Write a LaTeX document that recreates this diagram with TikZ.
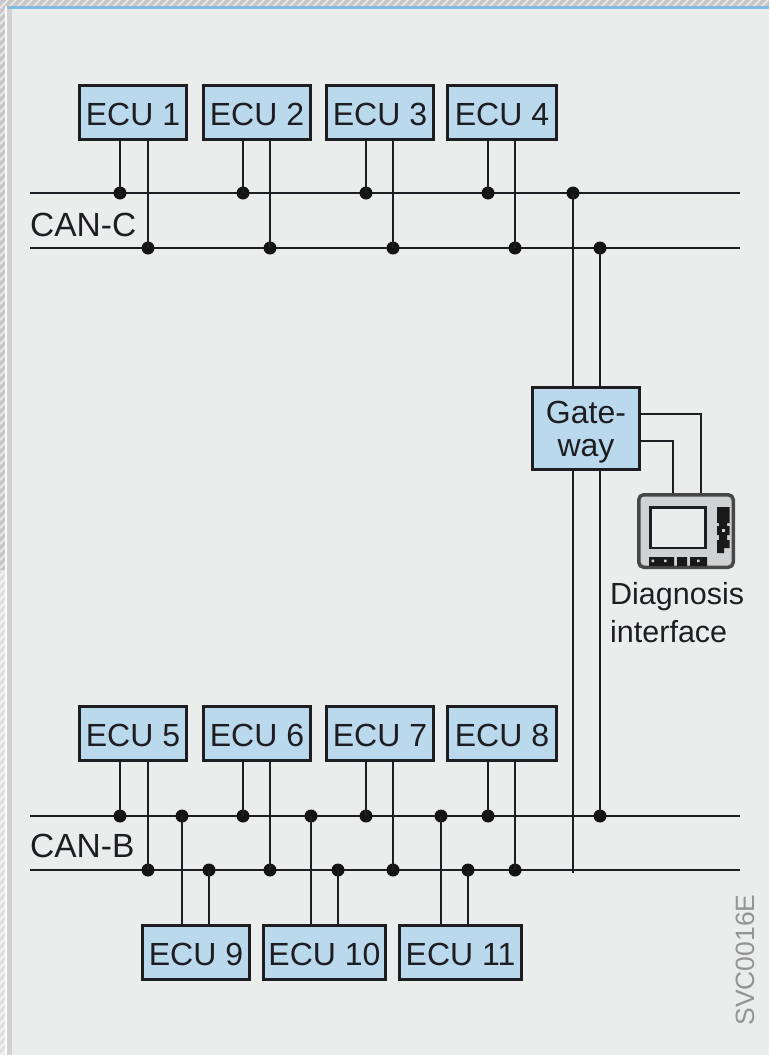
\documentclass[tikz,border=0pt]{standalone}
\usepackage{fontspec}
\setmainfont{Liberation Sans}
\definecolor{panel}{HTML}{EBEDED}
\definecolor{boxblue}{HTML}{BBD9EC}
\definecolor{ink}{HTML}{1E1E22}
\definecolor{devgrey}{HTML}{CFD1D2}
\definecolor{rule}{HTML}{82BBDD}
\tikzset{
  unit/.style={draw=ink,line width=2.6pt,fill=boxblue,text=ink,font=\fontsize{32}{33}\selectfont,inner sep=0pt,minimum height=54.4pt,anchor=north west},
  ecu/.style={unit,text height=26pt},
  wire/.style={draw=ink,line width=2.8pt},
  dot/.style={circle,fill=black!92,inner sep=0pt,minimum size=13pt},
  lbl/.style={text=ink,font=\fontsize{33.5}{38}\selectfont,inner sep=0pt}
}
\begin{document}
\begin{tikzpicture}[x=1pt,y=-1pt]
\useasboundingbox (0,0) rectangle (769,1055);
% surround
\fill[white] (0,0) rectangle (769,1055);
\begin{scope}
\clip (0,0) rectangle (769,6) (0,0) rectangle (5,1055);
\fill[black!22] (0,0) rectangle (769,570);
\fill[black!12] (0,570) rectangle (769,1055);
\foreach \i in {0,8,...,1832}{\draw[white,opacity=.6,line width=2pt] (\i,0) -- (\i-1060,1060);}
\end{scope}
\fill[devgrey] (7,6) rectangle (769,1055);
\fill[panel] (12,9) rectangle (769,1055);
\fill[rule] (7,6) rectangle (769,8.5);
% units
\node[ecu,minimum width=107.4pt] (e1) at (78,84) {ECU 1};
\node[ecu,minimum width=107.4pt] (e2) at (202,84) {ECU 2};
\node[ecu,minimum width=107.4pt] (e3) at (325,84) {ECU 3};
\node[ecu,minimum width=109.4pt] (e4) at (446,84) {ECU 4};
\node[ecu,minimum width=107.4pt] (e5) at (78,705) {ECU 5};
\node[ecu,minimum width=107.4pt] (e6) at (202,705) {ECU 6};
\node[ecu,minimum width=107.4pt] (e7) at (325,705) {ECU 7};
\node[ecu,minimum width=109.4pt] (e8) at (446,705) {ECU 8};
\node[ecu,minimum width=107.4pt] (e9) at (141,924) {ECU 9};
\node[ecu,minimum width=122.4pt] (e10) at (262,924) {ECU 10};
\node[ecu,minimum width=122.4pt] (e11) at (398,924) {ECU 11};
\node[unit,minimum width=107.4pt,minimum height=82.4pt,align=center] (gw) at (531,386) {\rule{0pt}{29pt}Gate-\\way};
% buses
\coordinate (c1l) at (30,193); \coordinate (c1r) at (740,193);
\coordinate (c2l) at (30,248); \coordinate (c2r) at (740,248);
\coordinate (b1l) at (30,816); \coordinate (b1r) at (740,816);
\coordinate (b2l) at (30,870); \coordinate (b2r) at (740,870);
\draw[wire] (c1l) -- (c1r);
\draw[wire] (c2l) -- (c2r);
\draw[wire] (b1l) -- (b1r);
\draw[wire] (b2l) -- (b2r);
% junctions on the buses
\foreach \n/\x/\y in {a1/120/193,a2/243/193,a3/366/193,a4/488/193,
  d1/148/248,d2/270/248,d3/393/248,d4/515/248,gc/573/193,gd/600/248,
  a5/120/816,a6/243/816,a7/366/816,a8/488/816,gb/600/816,
  d5/148/870,d6/270/870,d7/393/870,d8/515/870,
  t9/182/816,t10/311/816,t11/441/816,u9/209/870,u10/338/870,u11/468/870}
  {\node[dot] (\n) at (\x,\y) {};}
\coordinate (ge) at (573,873);
% unit to bus
\foreach \u/\p/\q in {e1/a1/d1,e2/a2/d2,e3/a3/d3,e4/a4/d4,e5/a5/d5,e6/a6/d6,e7/a7/d7,e8/a8/d8}{
  \draw[wire] (\u.south -| \p) -- (\p.center);
  \draw[wire] (\u.south -| \q) -- (\q.center);
}
\foreach \u/\p/\q in {e9/t9/u9,e10/t10/u10,e11/t11/u11}{
  \draw[wire] (\u.north -| \p) -- (\p.center);
  \draw[wire] (\u.north -| \q) -- (\q.center);
}
% gateway
\draw[wire] (gc.center) -- (gc |- gw.north);
\draw[wire] (gd.center) -- (gd |- gw.north);
\draw[wire] (gc |- gw.south) -- (ge);
\draw[wire] (gd |- gw.south) -- (gb.center);
% diagnosis device
\node[draw=black!72,line width=3.5pt,fill=devgrey,rounded corners=5pt,minimum width=94.5pt,minimum height=72.5pt,inner sep=0pt,anchor=north west] (dev) at (637,493) {};
\fill[panel,draw=ink,line width=2.4pt] (650.5,507.5) rectangle (705.5,548);
\fill[black!90] (717,507) rectangle (729.5,523)
  (719,523) rectangle (727,526)
  (717,526) rectangle (729.5,535)
  (719,535) rectangle (727,540)
  (717,540) rectangle (729.5,548)
  (717,548) rectangle (724,553)
  (649,557) rectangle (674,566)
  (677,557) rectangle (687,566)
  (690,557) rectangle (707,566);
\fill[devgrey] (722,529) rectangle (725,532);
\fill[devgrey] (651.5,559.5) rectangle +(2.5,2.5) (664,559.5) rectangle +(2.5,2.5) (697,559.5) rectangle +(2.5,2.5);
\coordinate (p1) at (673,441); \coordinate (p2) at (701,414);
\draw[wire] (gw.east |- p2) -- (p2) -- (p2 |- dev.north);
\draw[wire] (gw.east |- p1) -- (p1) -- (p1 |- dev.north);
% labels
\node[lbl,anchor=west] (canc) at (30,225) {CAN-C};
\node[lbl,anchor=west] (canb) at (30,846) {CAN-B};
\node[lbl,anchor=north west,align=left,font=\fontsize{30.5}{38}\selectfont] (diag) at (610,582) {Diagnosis\\interface};
\node[text=black!42,font=\fontsize{26.5}{30}\selectfont,rotate=90,inner sep=0pt] (svc) at (745,960) {SVC0016E};
\end{tikzpicture}
\end{document}
